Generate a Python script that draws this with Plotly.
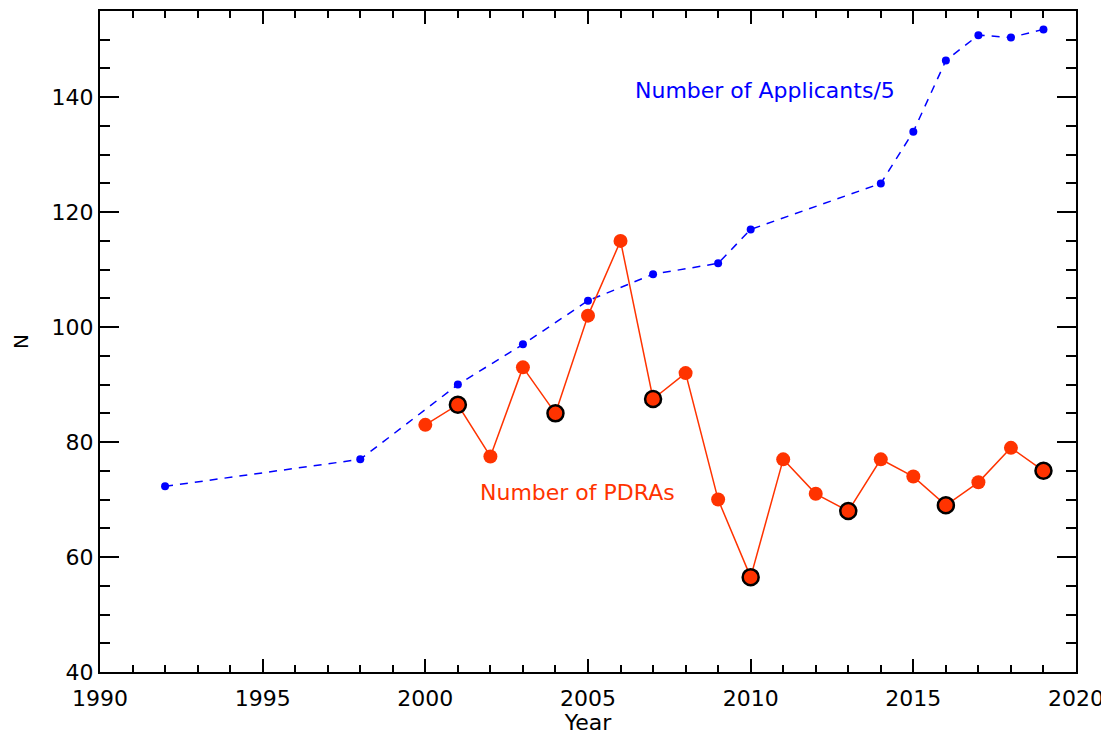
import plotly.graph_objects as go

# Applicants / 5 (blue)
app_years = [1992, 1998, 2001, 2003, 2005, 2007, 2009, 2010, 2014, 2015, 2016, 2017, 2018, 2019]
app_vals = [72.3, 77.0, 90.0, 97.0, 104.6, 109.2, 111.1, 117.0, 125.0, 134.0, 146.4, 150.8, 150.4, 151.8]

# PDRAs (red)
pdra_years = [2000, 2001, 2002, 2003, 2004, 2005, 2006, 2007, 2008, 2009,
              2010, 2011, 2012, 2013, 2014, 2015, 2016, 2017, 2018, 2019]
pdra_vals = [83.0, 86.5, 77.5, 93.0, 85.0, 102.0, 115.0, 87.5, 92.0, 70.0,
             56.5, 77.0, 71.0, 68.0, 77.0, 74.0, 69.0, 73.0, 79.0, 75.0]

# highlighted (outlined) PDRA years
hl_years = [2001, 2004, 2007, 2010, 2013, 2016, 2019]
hl_vals = [v for y, v in zip(pdra_years, pdra_vals) if y in hl_years]

x_ticks = [1990, 1995, 2000, 2005, 2010, 2015, 2020]
y_ticks = [40, 60, 80, 100, 120, 140]

RED = "#FF3300"
BLUE = "#0000FF"
FONT = "DejaVu Sans"

fig = go.Figure()
fig.add_trace(go.Scatter(
    x=app_years, y=app_vals, mode="lines+markers",
    line=dict(color=BLUE, width=1.5, dash="8px,7px"),
    marker=dict(color=BLUE, size=8),
    showlegend=False, hoverinfo="skip", cliponaxis=False))
fig.add_trace(go.Scatter(
    x=pdra_years, y=pdra_vals, mode="lines+markers",
    line=dict(color=RED, width=1.5),
    marker=dict(color=RED, size=14),
    showlegend=False, hoverinfo="skip"))
fig.add_trace(go.Scatter(
    x=hl_years, y=hl_vals, mode="markers",
    marker=dict(color=RED, size=16, line=dict(color="black", width=2.5)),
    showlegend=False, hoverinfo="skip"))

fig.add_annotation(x=2006.38, y=141.2, xref="x", yref="y", text="Number of Applicants/5",
                   showarrow=False, xanchor="left", yanchor="middle",
                   font=dict(family=FONT, size=22, color=BLUE))
fig.add_annotation(x=2001.62, y=71.3, xref="x", yref="y", text="Number of PDRAs",
                   showarrow=False, xanchor="left", yanchor="middle",
                   font=dict(family=FONT, size=22, color=RED))

# page body has an 8px default margin, so the figure is offset by 8px
fig.update_layout(
    width=1101, height=727,
    margin=dict(l=92, r=33, t=3, b=63, autoexpand=False),
    paper_bgcolor="white", plot_bgcolor="white",
    font=dict(family=FONT, size=20, color="black"),
    xaxis=dict(range=[1990, 2020], tickvals=x_ticks, ticktext=[str(t) for t in x_ticks],
               ticks="inside", ticklen=13, tickwidth=2, tickcolor="black",
               minor=dict(ticks="inside", ticklen=7, tickwidth=2, tickcolor="black", dtick=1, tick0=1990),
               showline=True, linewidth=2, linecolor="black", mirror="ticks",
               showgrid=False, zeroline=False, automargin=False,
               ticklabelstandoff=6,
               title=dict(text="Year", font=dict(size=22), standoff=19),
               tickfont=dict(size=22)),
    yaxis=dict(range=[40, 155], tickvals=y_ticks, ticktext=[str(t) for t in y_ticks],
               ticks="inside", ticklen=19, tickwidth=2, tickcolor="black",
               minor=dict(ticks="inside", ticklen=10, tickwidth=2, tickcolor="black", dtick=5, tick0=40),
               showline=True, linewidth=2, linecolor="black", mirror="ticks",
               showgrid=False, zeroline=False, automargin=False,
               title=dict(text="N", font=dict(size=20), standoff=18),
               tickfont=dict(size=22)),
)

fig.write_html("out.html")
